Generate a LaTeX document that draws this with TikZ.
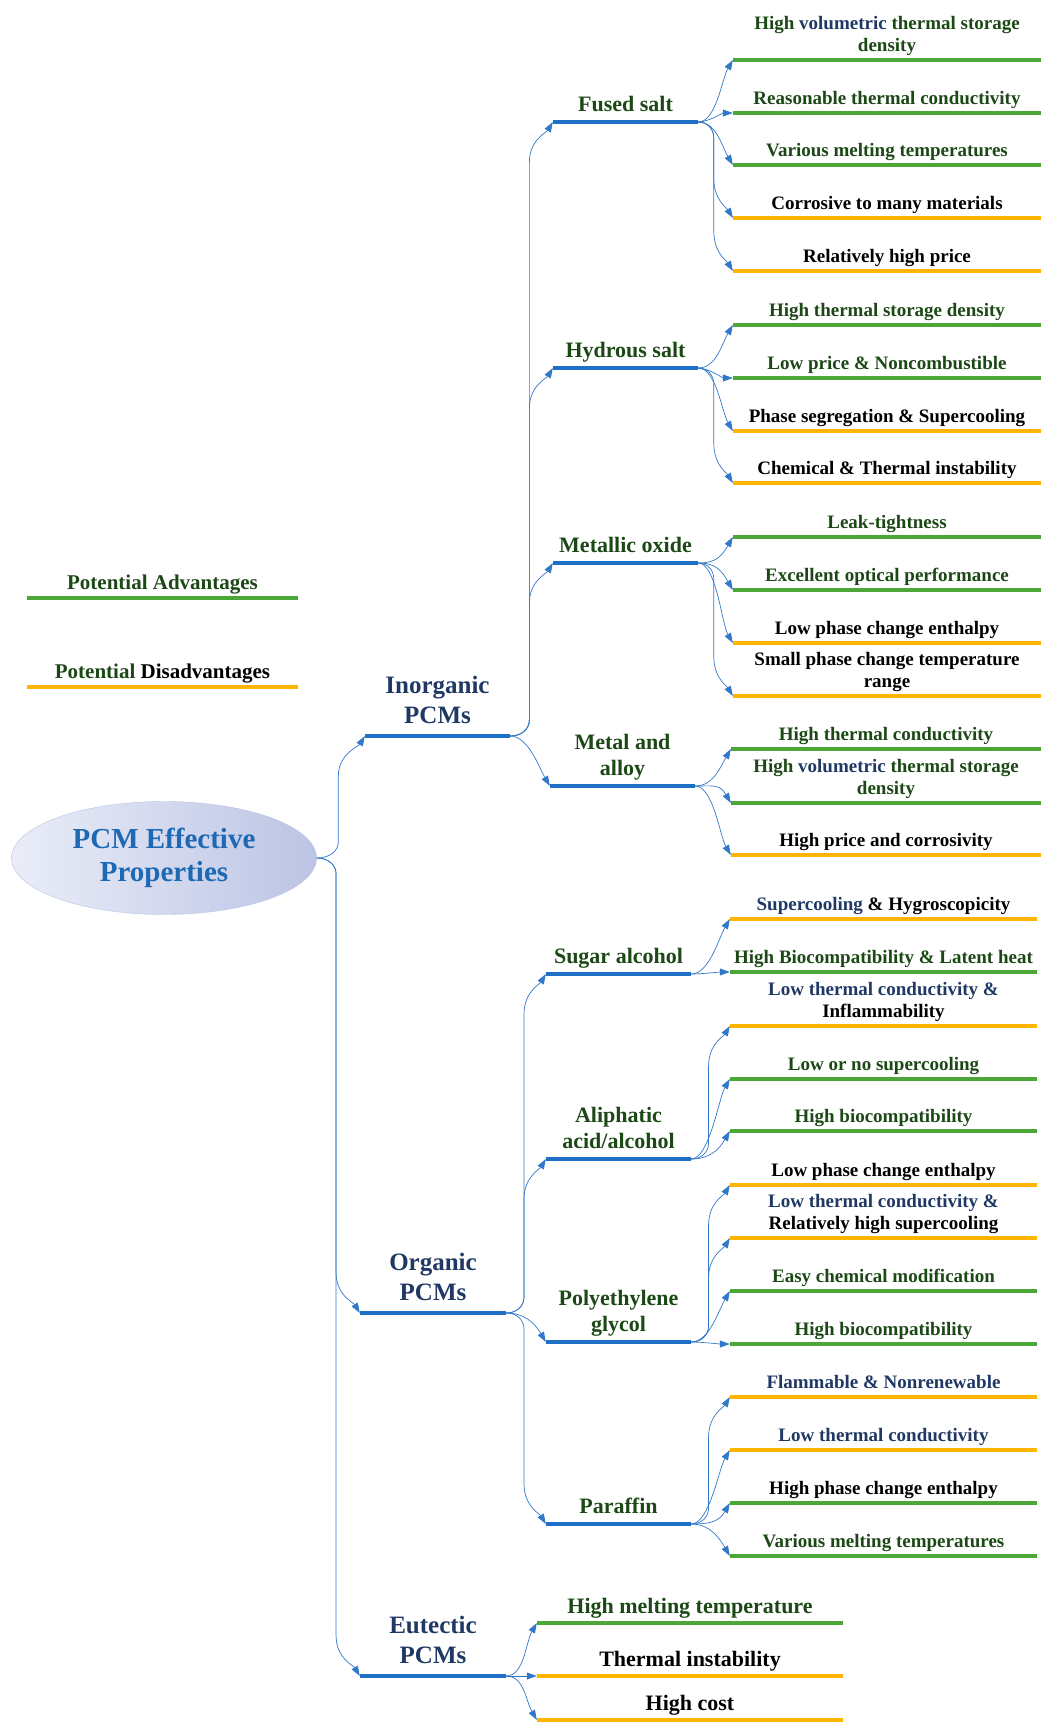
\documentclass[tikz,border=0pt]{standalone}
\usepackage{fontspec}
\setmainfont{Liberation Serif}
\usetikzlibrary{arrows.meta,positioning,shapes.geometric,calc}

\definecolor{barblue}{RGB}{30,112,198}
\definecolor{linkblue}{RGB}{50,120,200}
\definecolor{goodgreen}{RGB}{76,167,56}
\definecolor{badorange}{RGB}{255,180,0}
\definecolor{navy}{RGB}{31,56,100}
\definecolor{dkgreen}{RGB}{28,72,22}
\definecolor{rootblue}{RGB}{30,105,180}

\tikzset{
  bar/.style={rectangle, inner sep=0pt, minimum height=4.5pt, minimum width=145pt, fill=barblue},
  good/.style={rectangle, inner sep=0pt, minimum height=4pt, minimum width=#1, fill=goodgreen},
  good/.default=308pt,
  bad/.style={rectangle, inner sep=0pt, minimum height=4pt, minimum width=#1, fill=badorange},
  bad/.default=308pt,
  rootnode/.style={ellipse, minimum width=305pt, minimum height=113pt, inner sep=0pt,
    left color={rgb,255:red,234;green,237;blue,248}, right color={rgb,255:red,188;green,196;blue,228},
    draw={rgb,255:red,185;green,195;blue,228}, text=rootblue, align=center,
    font=\fontsize{29}{33}\selectfont\bfseries},
  cat/.style={font=\fontsize{25}{30}\selectfont\bfseries, text=navy, align=center, inner sep=1pt, text depth=5.5pt},
  sub/.style={font=\fontsize{22}{26}\selectfont\bfseries, text=dkgreen, align=center, inner sep=1pt, text depth=5pt},
  leaf/.style={font=\fontsize{19}{22}\selectfont\bfseries, align=center, inner sep=1pt, text depth=4pt},
  pro/.style={leaf, text=dkgreen},
  con/.style={leaf, text=black},
  big/.style={font=\fontsize{22}{26}\selectfont\bfseries, text depth=5pt},
  legend/.style={font=\fontsize{21}{25}\selectfont\bfseries, inner sep=1pt, text depth=4.5pt},
  link/.style={draw=linkblue, line width=0.7pt, ->, out=0, out distance=18pt, in distance=22pt},
  toup/.style={in=240},
  todn/.style={in=120},
  toflat/.style={in=180, out distance=10pt, in distance=10pt},
  % 长连线: 先转竖直, 再斜着进入
  trunk/.style={to path={let \p1=(\tikztostart), \p2=(\tikztotarget),
      \n1={sign(\y2-\y1)}, \n2={0.45*(\x2-\x1)} in
      .. controls ({\x1+0.6*\n2*1pt},\y1) and ({\x1+\n2*1pt},{\y1+\n1*7pt}) .. ({\x1+\n2*1pt},{\y1+\n1*16pt})
      -- ({\x1+\n2*1pt},{\y2-\n1*40pt})
      .. controls ({\x1+\n2*1pt},{\y2-\n1*18pt}) and ({\x2-6pt},{\y2-\n1*10pt}) .. (\tikztotarget)}}
}

\begin{document}
\begin{tikzpicture}[x=1pt, y=-1pt, >={Triangle[length=10pt,width=7pt]}]
  \useasboundingbox (0,0) rectangle (1041,1722);

  % 图例
  \node[good=271pt] (advbar) at (162.5,598) {};
  \node[legend, text=dkgreen, above=1pt of advbar] (advtxt) {Potential Advantages};
  \node[bad=271pt] (disbar) at (162.5,687) {};
  \node[legend, above=1pt of disbar] (distxt) {{\color{dkgreen}Potential} Disadvantages};

  % 中心
  \node[rootnode] (root) at (164,858) {PCM Effective\\Properties};

  % 一级分支
  \node[bar] (inorg) at (437.5,736) {};
  \node[cat, above=3pt of inorg] (inorgtxt) {Inorganic\\PCMs};
  \node[bar, minimum width=146pt] (org) at (433,1313) {};
  \node[cat, above=3pt of org] (orgtxt) {Organic\\PCMs};
  \node[bar, minimum width=146pt] (eut) at (433,1676) {};
  \node[cat, above=3pt of eut] (euttxt) {Eutectic\\PCMs};

  % 二级分支 (无机)
  \node[bar] (fused) at (625.5,122) {};
  \node[sub, above=2pt of fused] (fusedtxt) {Fused salt};
  \node[bar] (hydro) at (625.5,368) {};
  \node[sub, above=2pt of hydro] (hydrotxt) {Hydrous salt};
  \node[bar] (metox) at (625.5,563) {};
  \node[sub, above=2pt of metox] (metoxtxt) {Metallic oxide};
  \node[bar] (metal) at (622.5,786) {};
  \node[sub, above=2pt of metal] (metaltxt) {Metal and\\alloy};

  % 二级分支 (有机)
  \node[bar] (sugar) at (618.5,974) {};
  \node[sub, above=2pt of sugar] (sugartxt) {Sugar alcohol};
  \node[bar] (alip) at (618.5,1159) {};
  \node[sub, above=2pt of alip] (aliptxt) {Aliphatic\\acid/alcohol};
  \node[bar] (peg) at (618.5,1342) {};
  \node[sub, above=2pt of peg] (pegtxt) {Polyethylene\\glycol};
  \node[bar] (paraf) at (618.5,1524) {};
  \node[sub, above=2pt of paraf] (paraftxt) {Paraffin};

  % Fused salt
  \node[good] (fs1) at (887,60) {};
  \node[pro, above=1pt of fs1] (fs1t) {High {\color{navy}volumetric} thermal storage\\density};
  \node[good] (fs2) at (887,113) {};
  \node[pro, above=1pt of fs2] (fs2t) {Reasonable thermal conductivity};
  \node[good] (fs3) at (887,165) {};
  \node[pro, above=1pt of fs3] (fs3t) {Various melting temperatures};
  \node[bad] (fs4) at (887,218) {};
  \node[con, above=1pt of fs4] (fs4t) {Corrosive to many materials};
  \node[bad] (fs5) at (887,271) {};
  \node[con, above=1pt of fs5] (fs5t) {Relatively high price};

  % Hydrous salt
  \node[good] (hs1) at (887,325) {};
  \node[pro, above=1pt of hs1] (hs1t) {High thermal storage density};
  \node[good] (hs2) at (887,378) {};
  \node[pro, above=1pt of hs2] (hs2t) {Low price \& Noncombustible};
  \node[bad] (hs3) at (887,431) {};
  \node[con, above=1pt of hs3] (hs3t) {Phase segregation \& Supercooling};
  \node[bad] (hs4) at (887,483) {};
  \node[con, above=1pt of hs4] (hs4t) {Chemical \& Thermal instability};

  % Metallic oxide
  \node[good] (mo1) at (887,537) {};
  \node[pro, above=1pt of mo1] (mo1t) {Leak-tightness};
  \node[good] (mo2) at (887,590) {};
  \node[pro, above=1pt of mo2] (mo2t) {Excellent optical performance};
  \node[bad] (mo3) at (887,643) {};
  \node[con, above=1pt of mo3] (mo3t) {Low phase change enthalpy};
  \node[bad] (mo4) at (887,696) {};
  \node[con, above=1pt of mo4] (mo4t) {Small phase change temperature\\range};

  % Metal and alloy
  \node[good, minimum width=310pt] (ma1) at (886,749) {};
  \node[pro, above=1pt of ma1] (ma1t) {High thermal conductivity};
  \node[good, minimum width=310pt] (ma2) at (886,803) {};
  \node[pro, above=1pt of ma2] (ma2t) {High {\color{navy}volumetric} thermal storage\\density};
  \node[bad, minimum width=310pt] (ma3) at (886,855) {};
  \node[con, above=1pt of ma3] (ma3t) {High price and corrosivity};

  % Sugar alcohol
  \node[bad, minimum width=307pt] (sa1) at (883.5,919) {};
  \node[con, above=1pt of sa1] (sa1t) {{\color{navy}Supercooling} \& Hygroscopicity};
  \node[good, minimum width=307pt] (sa2) at (883.5,972) {};
  \node[pro, above=1pt of sa2] (sa2t) {High Biocompatibility \& Latent heat};

  % Aliphatic acid/alcohol
  \node[bad, minimum width=307pt] (aa1) at (883.5,1026) {};
  \node[con, above=1pt of aa1] (aa1t) {{\color{navy}Low thermal conductivity \&}\\Inflammability};
  \node[good, minimum width=307pt] (aa2) at (883.5,1079) {};
  \node[pro, above=1pt of aa2] (aa2t) {Low or no supercooling};
  \node[good, minimum width=307pt] (aa3) at (883.5,1131) {};
  \node[pro, above=1pt of aa3] (aa3t) {High biocompatibility};

  % Polyethylene glycol
  \node[bad, minimum width=307pt] (pg1) at (883.5,1185) {};
  \node[con, above=1pt of pg1] (pg1t) {Low phase change enthalpy};
  \node[bad, minimum width=307pt] (pg2) at (883.5,1238) {};
  \node[con, above=1pt of pg2] (pg2t) {{\color{navy}Low thermal conductivity \&}\\Relatively high supercooling};
  \node[good, minimum width=307pt] (pg3) at (883.5,1291) {};
  \node[pro, above=1pt of pg3] (pg3t) {Easy chemical modification};
  \node[good, minimum width=307pt] (pg4) at (883.5,1344) {};
  \node[pro, above=1pt of pg4] (pg4t) {High biocompatibility};

  % Paraffin
  \node[bad, minimum width=307pt] (pf1) at (883.5,1397) {};
  \node[con, text=navy, above=1pt of pf1] (pf1t) {Flammable \& Nonrenewable};
  \node[bad, minimum width=307pt] (pf2) at (883.5,1450) {};
  \node[con, text=navy, above=1pt of pf2] (pf2t) {Low thermal conductivity};
  \node[good, minimum width=307pt] (pf3) at (883.5,1503) {};
  \node[con, above=1pt of pf3] (pf3t) {High phase change enthalpy};
  \node[good, minimum width=307pt] (pf4) at (883.5,1556) {};
  \node[pro, above=1pt of pf4] (pf4t) {Various melting temperatures};

  % Eutectic
  \node[good=306pt] (eu1) at (690,1623) {};
  \node[pro, big, above=1pt of eu1] (eu1t) {High melting temperature};
  \node[bad=306pt] (eu2) at (690,1676) {};
  \node[con, big, above=1pt of eu2] (eu2t) {Thermal instability};
  \node[bad=306pt] (eu3) at (690,1720) {};
  \node[con, big, above=1pt of eu3] (eu3t) {High cost};

  % 连线
  \draw[link, trunk] (root.east) to (inorg.west);
  \draw[link, trunk] (root.east) to (org.west);
  \draw[link, trunk] (root.east) to (eut.west);

  \draw[link, trunk] (inorg.east) to (fused.west);
  \draw[link, trunk] (inorg.east) to (hydro.west);
  \draw[link, trunk] (inorg.east) to (metox.west);
  \draw[link, todn] (inorg.east) to (metal.west);

  \draw[link, trunk] (org.east) to (sugar.west);
  \draw[link, trunk] (org.east) to (alip.west);
  \draw[link, todn] (org.east) to (peg.west);
  \draw[link, trunk] (org.east) to (paraf.west);

  \draw[link, toup] (eut.east) to (eu1.west);
  \draw[link, toflat] (eut.east) to (eu2.west);
  \draw[link, todn] (eut.east) to (eu3.west);

  \draw[link, toup] (fused.east) to (fs1.west);
  \draw[link, toflat] (fused.east) to (fs2.west);
  \draw[link, todn] (fused.east) to (fs3.west);
  \draw[link, trunk] (fused.east) to (fs4.west);
  \draw[link, trunk] (fused.east) to (fs5.west);

  \draw[link, toup] (hydro.east) to (hs1.west);
  \draw[link, toflat] (hydro.east) to (hs2.west);
  \draw[link, todn] (hydro.east) to (hs3.west);
  \draw[link, trunk] (hydro.east) to (hs4.west);

  \draw[link, toup] (metox.east) to (mo1.west);
  \draw[link, todn] (metox.east) to (mo2.west);
  \draw[link, todn] (metox.east) to (mo3.west);
  \draw[link, trunk] (metox.east) to (mo4.west);

  \draw[link, toup] (metal.east) to (ma1.west);
  \draw[link, todn] (metal.east) to (ma2.west);
  \draw[link, todn] (metal.east) to (ma3.west);

  \draw[link, toup] (sugar.east) to (sa1.west);
  \draw[link, toflat] (sugar.east) to (sa2.west);

  \draw[link, trunk] (alip.east) to (aa1.west);
  \draw[link, toup] (alip.east) to (aa2.west);
  \draw[link, toup] (alip.east) to (aa3.west);

  \draw[link, trunk] (peg.east) to (pg1.west);
  \draw[link, trunk] (peg.east) to (pg2.west);
  \draw[link, toup] (peg.east) to (pg3.west);
  \draw[link, toflat] (peg.east) to (pg4.west);

  \draw[link, trunk] (paraf.east) to (pf1.west);
  \draw[link, toup] (paraf.east) to (pf2.west);
  \draw[link, toup] (paraf.east) to (pf3.west);
  \draw[link, todn] (paraf.east) to (pf4.west);
\end{tikzpicture}
\end{document}
